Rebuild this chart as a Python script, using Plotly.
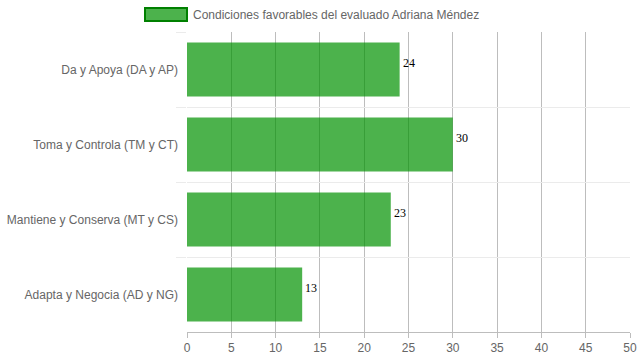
import plotly.graph_objects as go

categories = ["Da y Apoya (DA y AP)", "Toma y Controla (TM y CT)",
              "Mantiene y Conserva (MT y CS)", "Adapta y Negocia (AD y NG)"]
values = [24, 30, 23, 13]
series_name = "Condiciones favorables del evaluado Adriana Méndez"
x_ticks = list(range(0, 55, 5))

bar_color = "rgba(0,145,0,0.7)"
font_family = "Liberation Sans, Arial, sans-serif"

PW, PH = 443, 300  # plot area size in px

fig = go.Figure()
fig.add_trace(go.Bar(
    x=values, y=categories, orientation="h", name=series_name,
    marker=dict(color=bar_color, line=dict(width=0)),
    width=0.72, showlegend=False, hoverinfo="x+y",
))

for v, c in zip(values, categories):
    fig.add_annotation(x=v, y=c, text=str(v), showarrow=False,
                       xanchor="left", yanchor="middle", xshift=1, yshift=7,
                       font=dict(family="Liberation Serif, Times New Roman, serif",
                                 size=12, color="#000"))

# custom legend (wide box like the reference)
fig.add_shape(type="rect", xref="paper", yref="paper",
              x0=-(187 - 145) / PW, x1=0.0, y0=1.0 + (32 - 21) / PH, y1=1.0 + (32 - 8) / PH,
              fillcolor="rgba(0,145,0,0.7)", line=dict(color="rgb(0,128,0)", width=2))
fig.add_annotation(xref="paper", yref="paper", x=(193 - 187) / PW, y=1.0 + (32 - 15) / PH,
                   text=series_name, showarrow=False, xanchor="left", yanchor="middle",
                   xshift=-2,
                   font=dict(family=font_family, size=12, color="#666"))

fig.update_layout(
    width=639, height=360,
    margin=dict(l=187, r=9, t=32, b=28, autoexpand=False),
    paper_bgcolor="white", plot_bgcolor="white",
    font=dict(family=font_family, size=12, color="#666"),
    showlegend=False,
    xaxis=dict(range=[0, 50], tickvals=x_ticks, showgrid=True, automargin=False,
               gridcolor="#bdbdbd", gridwidth=1, zeroline=False,
               showline=True, linecolor="#bdbdbd", linewidth=1,
               ticks="outside", ticklen=5, tickcolor="#bdbdbd",
               tickfont=dict(size=12, color="#666")),
    yaxis=dict(type="category", autorange="reversed", tickson="boundaries",
               automargin=False,
               showgrid=True, gridcolor="#ebebeb", gridwidth=1,
               showline=False, ticks="outside", ticklen=10, tickcolor="#ebebeb",
               ticklabelstandoff=8,
               tickfont=dict(size=12, color="#666")),
)

fig.write_html("out.html", config={"displayModeBar": False},
               post_script="document.body.style.margin='0';document.body.style.overflow='hidden';")
